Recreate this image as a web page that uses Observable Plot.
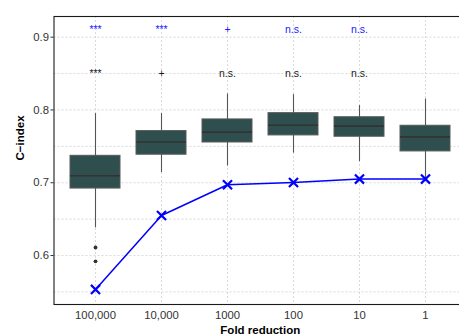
<!DOCTYPE html>
<html>
<head>
<meta charset="utf-8">
<script src="https://cdn.jsdelivr.net/npm/d3@7"></script>
<script src="https://cdn.jsdelivr.net/npm/@observablehq/plot@0.6"></script>
<style>
  html, body { margin: 0; padding: 0; background: white; overflow: hidden; }
  #chart svg { overflow: hidden; }
</style>
</head>
<body>
<div id="chart"></div>
<script>
const categories = ["100,000", "10,000", "1000", "100", "10", "1"];
const q1 = [0.692, 0.7385, 0.7553, 0.765, 0.7632, 0.743];
const median = [0.7095, 0.756, 0.7695, 0.779, 0.7778, 0.763];
const q3 = [0.737, 0.771, 0.787, 0.7956, 0.790, 0.7783];
const whiskerLow = [0.638, 0.714, 0.723, 0.7407, 0.729, 0.703];
const whiskerHigh = [0.795, 0.795, 0.822, 0.821, 0.806, 0.815];
const outlierCats = ["100,000", "100,000"];
const outlierValues = [0.611, 0.592];
const referenceValues = [0.5534, 0.655, 0.6973, 0.7004, 0.705, 0.705];
const sigBlue = ["***", "***", "+", "n.s.", "n.s.", ""];
const sigBlack = ["***", "+", "n.s.", "n.s.", "n.s.", ""];
const yTicks = [0.6, 0.7, 0.8, 0.9];
const yMinor = [0.55, 0.65, 0.75, 0.85];

const boxes = categories.map((c, i) => ({
  cat: c, q1: q1[i], med: median[i], q3: q3[i], lo: whiskerLow[i], hi: whiskerHigh[i],
  ref: referenceValues[i], blue: sigBlue[i], black: sigBlack[i]
}));
const outliers = outlierCats.map((c, i) => ({cat: c, v: outlierValues[i]}));

const font = "'Liberation Sans', Arial, Helvetica, sans-serif";
const grid = {stroke: "#cfcfcf", strokeOpacity: 1, strokeDasharray: "2,2", strokeWidth: 0.8};

const chart = Plot.plot({
  width: 459,
  height: 336,
  marginLeft: 53.5,
  marginRight: -7,
  marginTop: 16,
  marginBottom: 32,
  style: {fontFamily: font, background: "white"},
  x: {type: "band", domain: categories, paddingInner: 0.25, paddingOuter: 0.225, align: 0.5, label: null},
  y: {domain: [0.5327, 0.9284], label: null},
  marks: [
    Plot.ruleY(yTicks, {...grid}),
    Plot.ruleY(yMinor, {...grid}),
    Plot.gridX(categories, {...grid}),
    Plot.ruleX(boxes, {x: "cat", y1: "lo", y2: "hi", stroke: "#555555", strokeWidth: 1.1}),
    Plot.barY(boxes, {x: "cat", y1: "q1", y2: "q3", fill: "#2F4F4F", stroke: "#5a5a5a", strokeWidth: 1}),
    Plot.tickY(boxes, {x: "cat", y: "med", stroke: "#333333", strokeWidth: 1.6}),
    Plot.dot(outliers, {x: "cat", y: "v", r: 1.9, fill: "#333333", stroke: null}),
    Plot.line(boxes, {x: "cat", y: "ref", stroke: "#0000FF", strokeWidth: 1.5}),
    Plot.dot(boxes, {x: "cat", y: "ref", symbol: "times", r: 4.2, stroke: "#0000FF", strokeWidth: 2.2}),
    Plot.text(boxes, {x: "cat", y: () => 0.91, text: "blue", fill: "#1a1aff", fontSize: 10.5}),
    Plot.text(boxes, {x: "cat", y: () => 0.85, text: "black", fill: "#1a1a1a", fontSize: 10.5}),
    Plot.frame({stroke: "#1a1a1a", strokeWidth: 1.1}),
    Plot.axisY(yTicks, {tickSize: 3, tickPadding: 2, fontSize: 11.3, color: "#333333", tickFormat: d3.format(".1f")}),
    Plot.axisX({tickSize: 0, tickPadding: 6, fontSize: 11.3, color: "#333333"}),
    Plot.text(["Fold reduction"], {frameAnchor: "bottom", dy: 29, x: null, fontWeight: "bold", fontSize: 11.5, fill: "black", text: d => d}),
    Plot.text(["C\u2212index"], {frameAnchor: "left", dx: -34, rotate: -90, fontWeight: "bold", fontSize: 11.5, fill: "black", text: d => d})
  ]
});
document.getElementById("chart").appendChild(chart);
</script>
</body>
</html>
